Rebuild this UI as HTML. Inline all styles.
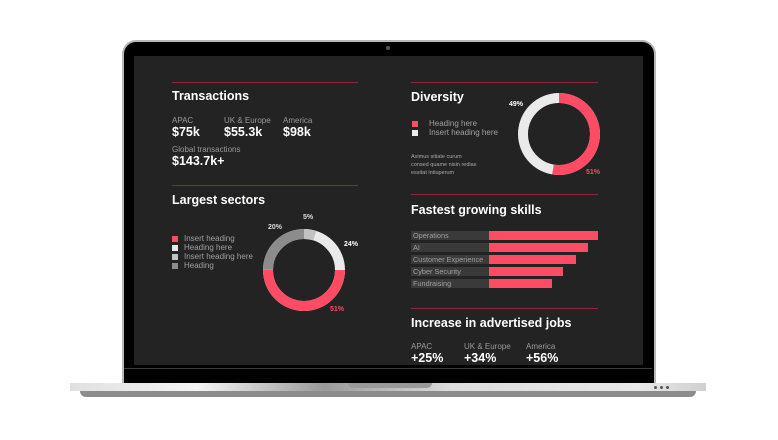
<!DOCTYPE html>
<html><head><meta charset="utf-8"><style>
body{margin:0;width:778px;height:440px;background:#fff;position:relative;overflow:hidden;font-family:"Liberation Sans",sans-serif}
.a{position:absolute;white-space:nowrap}
.h{color:#fff;font-weight:bold;font-size:12.5px}
.l{color:#9a9a9a;font-size:8px}
.v{color:#fff;font-weight:bold;font-size:12.5px}
.line{position:absolute;height:1px;background:#8a2a35}
.sq{position:absolute;width:6px;height:6px}
.lg{color:#a0a0a0;font-size:8px}
.bl{color:#a0a0a0;font-size:7.3px}
.bar{position:absolute;height:9px}
</style></head><body>
<div class="a" style="left:122px;top:40px;width:530px;height:343px;border:2px solid #b8b8b8;border-bottom:none;border-radius:14px 14px 0 0;background:#000"></div>
<div class="a" style="left:386px;top:46px;width:4px;height:4px;border-radius:50%;background:#555"></div>
<div class="a" style="left:134px;top:56px;width:509px;height:309px;background:#232323"></div>
<div class="a" style="left:124px;top:368px;width:528px;height:1px;background:#3a3a3a"></div>
<div class="a" style="left:70px;top:383px;width:636px;height:8px;background:linear-gradient(90deg,#e0e0e0,#f4f4f4 20%,#9a9a9a 40%,#dcdcdc 60%,#e8e8e8 90%,#cfcfcf)"></div>
<div class="a" style="left:80px;top:391px;width:616px;height:6px;background:#8c8c8c;border-radius:0 0 30px 30px"></div>
<div class="a" style="left:348px;top:383px;width:84px;height:5px;background:#9a9a9a;border-radius:0 0 6px 6px"></div>
<div class="a" style="left:654px;top:386px;width:3px;height:3px;border-radius:50%;background:#555"></div>
<div class="a" style="left:660px;top:386px;width:3px;height:3px;border-radius:50%;background:#555"></div>
<div class="a" style="left:666px;top:386px;width:3px;height:3px;border-radius:50%;background:#555"></div>

<div class="line" style="left:172px;top:82px;width:186px"></div>
<div class="line" style="left:172px;top:185px;width:186px;background:#8a2a35"></div>
<div class="line" style="left:411px;top:82px;width:187px"></div>
<div class="line" style="left:411px;top:194px;width:187px"></div>
<div class="line" style="left:411px;top:308px;width:187px"></div>

<div class="a h" style="left:172px;top:89px">Transactions</div>
<div class="a l" style="left:172px;top:116px">APAC</div>
<div class="a l" style="left:224px;top:116px">UK &amp; Europe</div>
<div class="a l" style="left:283px;top:116px">America</div>
<div class="a v" style="left:172px;top:125px">$75k</div>
<div class="a v" style="left:224px;top:125px">$55.3k</div>
<div class="a v" style="left:283px;top:125px">$98k</div>
<div class="a l" style="left:172px;top:145px">Global transactions</div>
<div class="a v" style="left:172px;top:154px">$143.7k+</div>

<div class="a h" style="left:172px;top:193px">Largest sectors</div>
<div class="sq" style="left:172px;top:236px;background:#ff4b63"></div>
<div class="sq" style="left:172px;top:245px;background:#eaeaea"></div>
<div class="sq" style="left:172px;top:254px;background:#c2c2c2"></div>
<div class="sq" style="left:172px;top:263px;background:#8c8c8c"></div>
<div class="a lg" style="left:184px;top:234px">Insert heading</div>
<div class="a lg" style="left:184px;top:243px">Heading here</div>
<div class="a lg" style="left:184px;top:252px">Insert heading here</div>
<div class="a lg" style="left:184px;top:261px">Heading</div>
<svg class="a" style="left:262px;top:228px" width="84" height="84" viewBox="0 0 84 84">
<g transform="rotate(-90 42 42)" fill="none" stroke-width="10">
<circle cx="42" cy="42" r="36" stroke="#eaeaea"/>
<circle cx="42" cy="42" r="36" stroke="#c2c2c2" stroke-dasharray="11 300"/>
<circle cx="42" cy="42" r="36" stroke="#ff4b63" stroke-dasharray="0 56.5 113 300"/>
<circle cx="42" cy="42" r="36" stroke="#8c8c8c" stroke-dasharray="0 169.6 56.6 300"/>
</g></svg>
<div class="a" style="left:303px;top:214px;color:#ddd;font-size:7px;font-weight:bold">5%</div>
<div class="a" style="left:268px;top:224px;color:#ddd;font-size:7px;font-weight:bold">20%</div>
<div class="a" style="left:344px;top:241px;color:#fff;font-size:7px;font-weight:bold">24%</div>
<div class="a" style="left:330px;top:306px;color:#ff4b63;font-size:7px;font-weight:bold">51%</div>

<div class="a h" style="left:411px;top:90px">Diversity</div>
<div class="sq" style="left:412px;top:121px;background:#ff4b63"></div>
<div class="sq" style="left:412px;top:130px;background:#eaeaea"></div>
<div class="a lg" style="left:429px;top:119px">Heading here</div>
<div class="a lg" style="left:429px;top:128px">Insert heading here</div>
<div class="a" style="left:411px;top:153px;color:#aaa;font-size:5.5px;line-height:8px">Aximus sitiate curum<br>consed quame nisin redias<br>essitat intiuperum</div>
<svg class="a" style="left:517px;top:92px" width="84" height="84" viewBox="0 0 84 84">
<g transform="rotate(-90 42 42)" fill="none" stroke-width="10">
<circle cx="42" cy="42" r="36" stroke="#eaeaea"/>
<circle cx="42" cy="42" r="36" stroke="#ff4b63" stroke-dasharray="119 300"/>
</g></svg>
<div class="a" style="left:509px;top:101px;color:#fff;font-size:7px;font-weight:bold">49%</div>
<div class="a" style="left:586px;top:169px;color:#ff4b63;font-size:7px;font-weight:bold">51%</div>

<div class="a h" style="left:411px;top:203px">Fastest growing skills</div>
<div class="bar" style="left:411px;top:231px;width:78px;background:#3a3a3a"></div>
<div class="bar" style="left:411px;top:243px;width:78px;background:#3a3a3a"></div>
<div class="bar" style="left:411px;top:255px;width:78px;background:#3a3a3a"></div>
<div class="bar" style="left:411px;top:267px;width:78px;background:#3a3a3a"></div>
<div class="bar" style="left:411px;top:279px;width:78px;background:#3a3a3a"></div>
<div class="bar" style="left:489px;top:231px;width:109px;background:#ff4b63"></div>
<div class="bar" style="left:489px;top:243px;width:99px;background:#ff4b63"></div>
<div class="bar" style="left:489px;top:255px;width:87px;background:#ff4b63"></div>
<div class="bar" style="left:489px;top:267px;width:74px;background:#ff4b63"></div>
<div class="bar" style="left:489px;top:279px;width:63px;background:#ff4b63"></div>
<div class="a bl" style="left:413px;top:231px">Operations</div>
<div class="a bl" style="left:413px;top:243px">AI</div>
<div class="a bl" style="left:413px;top:255px">Customer Experience</div>
<div class="a bl" style="left:413px;top:267px">Cyber Security</div>
<div class="a bl" style="left:413px;top:279px">Fundraising</div>

<div class="a h" style="left:411px;top:316px">Increase in advertised jobs</div>
<div class="a l" style="left:411px;top:342px">APAC</div>
<div class="a l" style="left:464px;top:342px">UK &amp; Europe</div>
<div class="a l" style="left:526px;top:342px">America</div>
<div class="a v" style="left:411px;top:351px">+25%</div>
<div class="a v" style="left:464px;top:351px">+34%</div>
<div class="a v" style="left:526px;top:351px">+56%</div>
</body></html>
